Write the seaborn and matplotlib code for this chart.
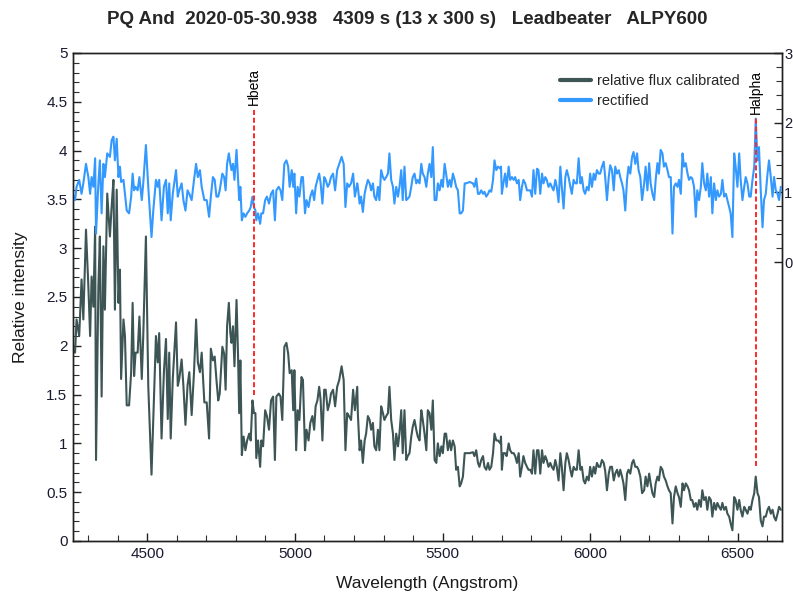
import numpy as np
import pandas as pd
import matplotlib
matplotlib.use('Agg')
import matplotlib.pyplot as plt
import seaborn as sns
from matplotlib.ticker import MultipleLocator, FixedLocator
from matplotlib.lines import Line2D

# ---------------- data ----------------
wavelength = [
    4250, 4255, 4260, 4269, 4277, 4283, 4292, 4300, 4306, 4311, 4317, 4323, 4326, 4334, 4339, 4345,
    4351, 4356, 4364, 4373, 4379, 4385, 4390, 4396, 4402, 4407, 4411, 4419, 4424, 4430, 4438, 4445,
    4450, 4455, 4460, 4467, 4473, 4481, 4486, 4495, 4503, 4514, 4520, 4529, 4535, 4540, 4548, 4556,
    4563, 4569, 4574, 4579, 4586, 4597, 4603, 4608, 4616, 4622, 4629, 4636, 4642, 4650, 4658, 4665,
    4671, 4678, 4684, 4693, 4701, 4709, 4715,
    4722, 4728, 4734, 4740, 4745, 4754, 4760, 4765, 4770, 4776, 4781, 4785, 4790, 4795, 4802, 4807,
    4811, 4815, 4820, 4826, 4832, 4838, 4845, 4850, 4856, 4861, 4866, 4869, 4875, 4882, 4886, 4892,
    4899, 4905, 4912, 4919, 4926, 4932, 4937, 4945, 4951, 4957, 4964, 4971, 4977, 4982, 4989, 4994,
    4998, 5004, 5009, 5015, 5022, 5027, 5034, 5039, 5046, 5052, 5059, 5065, 5070, 5076, 5082, 5087,
    5093, 5099, 5104, 5111, 5117, 5122, 5129, 5136, 5143, 5150, 5158, 5165, 5171, 5177, 5183, 5190,
    5197, 5203, 5211,
    5213, 5219, 5224, 5230, 5236, 5241, 5247, 5253, 5258, 5264, 5269, 5275, 5281, 5286, 5292, 5298,
    5303, 5309, 5315, 5320, 5326, 5332, 5337, 5343, 5349, 5354, 5360, 5365, 5371, 5377, 5382, 5388,
    5394, 5399, 5405, 5411, 5416, 5422, 5428, 5433, 5439, 5445, 5450, 5456, 5462, 5467, 5473, 5479,
    5484, 5490, 5496, 5501, 5507, 5512, 5518, 5524, 5529, 5535, 5541, 5546, 5552, 5558, 5563, 5569,
    5575, 5580, 5592, 5603, 5608, 5614, 5620, 5625, 5631, 5637, 5642, 5648, 5654, 5659, 5665, 5671,
    5676, 5682, 5688, 5696,
    5698, 5701, 5706, 5712, 5717, 5724, 5729, 5735, 5741, 5746, 5752, 5758, 5763, 5769, 5774, 5780,
    5786, 5791, 5797, 5803, 5808, 5814, 5820, 5825, 5831, 5837, 5842, 5848, 5853, 5859, 5865, 5870,
    5876, 5882, 5887, 5893, 5899, 5904, 5910, 5916, 5921, 5927, 5933, 5938, 5944, 5950, 5955, 5961,
    5967, 5972, 5978, 5983, 5989, 5995, 6000, 6006, 6012, 6017, 6023, 6029, 6034, 6040, 6046, 6051,
    6057, 6063, 6068, 6074, 6080, 6085, 6091, 6097, 6102, 6108, 6113, 6119, 6125, 6130, 6136, 6142,
    6147, 6153, 6159, 6164, 6170, 6176,
    6183, 6188, 6194, 6200, 6205, 6211, 6217, 6222, 6228, 6233, 6239, 6245, 6250, 6256, 6262, 6267,
    6273, 6279, 6284, 6290, 6296, 6301, 6307, 6313, 6318, 6324, 6330, 6335, 6341, 6346, 6352, 6358,
    6363, 6369, 6375, 6380, 6386, 6392, 6397, 6403, 6409, 6414, 6420, 6426, 6431, 6437, 6443, 6448,
    6454, 6460, 6465, 6471, 6476, 6482, 6488, 6493, 6499, 6505, 6510, 6516, 6522, 6527, 6533, 6539,
    6544, 6550, 6556, 6561, 6567, 6572, 6578, 6584, 6589, 6595, 6601, 6606, 6612, 6618, 6623, 6629,
    6635, 6640, 6646,
]

flux_calibrated = [
    1.95, 1.93, 2.27, 2.10, 2.68, 2.27, 3.19, 2.61, 2.10, 2.71, 2.40, 3.22, 0.83, 2.61, 3.12, 1.48,
    3.02, 2.37, 3.56, 3.12, 3.43, 3.70, 2.37, 3.60, 2.44, 2.78, 1.66, 2.27, 2.10, 1.39, 1.39, 1.73,
    2.44, 1.69, 1.93, 1.93, 2.30, 1.66, 2.10, 3.12, 1.59, 0.68, 1.25, 2.10, 1.83, 2.13, 1.05, 1.73,
    2.07, 1.25, 1.93, 1.05, 1.66, 2.24, 1.59, 1.66, 1.86, 1.59, 1.19, 1.59, 1.73, 1.29, 1.73, 2.27,
    1.83, 1.73, 1.93, 1.42, 1.42, 1.05, 1.97,
    1.85, 1.89, 1.65, 1.44, 1.51, 1.99, 1.92, 1.55, 2.20, 2.44, 2.13, 2.03, 2.20, 1.79, 2.47, 1.92,
    1.31, 1.85, 0.88, 1.07, 0.93, 1.03, 1.10, 1.03, 1.44, 1.31, 1.31, 0.85, 1.03, 0.76, 1.03, 0.97,
    1.34, 1.28, 1.14, 1.44, 1.48, 0.83, 1.48, 1.51, 1.48, 1.24, 1.99, 2.03, 1.92, 1.72, 1.75, 1.34,
    1.75, 0.93, 1.34, 1.24, 1.68, 1.65, 0.93, 1.14, 1.03, 1.21, 1.28, 1.14, 1.38, 1.44, 1.58, 1.44,
    1.03, 1.55, 1.55, 1.34, 1.41, 1.51, 1.55, 1.38, 1.58, 1.65, 1.79, 1.65, 0.93, 1.31, 1.28, 1.24,
    1.55, 1.34, 1.58,
    1.31, 0.93, 1.03, 0.80, 1.03, 1.10, 1.28, 1.24, 1.14, 1.21, 0.97, 0.93, 1.14, 0.93, 1.38, 1.31,
    1.24, 1.28, 1.31, 1.58, 1.24, 1.10, 0.83, 1.10, 0.97, 1.10, 1.34, 0.90, 1.34, 0.83, 0.87, 0.90,
    1.07, 1.17, 1.24, 1.14, 1.07, 1.03, 1.34, 1.24, 1.10, 0.93, 1.34, 1.31, 1.14, 1.44, 0.83, 0.80,
    1.00, 0.87, 0.97, 0.90, 1.10, 1.10, 0.93, 1.03, 0.93, 1.03, 0.97, 0.73, 0.76, 0.56, 0.59, 0.66,
    0.90, 0.90, 0.90, 0.91, 0.87, 0.93, 0.80, 0.76, 0.83, 0.87, 0.76, 0.73, 0.80, 0.73, 0.76, 0.90,
    1.10, 1.03, 1.03, 1.00,
    1.07, 0.73, 0.90, 0.90, 0.87, 1.00, 0.93, 0.90, 0.90, 0.87, 0.80, 0.90, 0.66, 0.76, 0.87, 0.80,
    0.76, 0.73, 0.73, 0.69, 0.93, 0.69, 0.93, 0.93, 0.69, 0.93, 0.80, 0.87, 0.83, 0.76, 0.80, 0.76,
    0.73, 0.83, 0.76, 0.62, 0.90, 0.76, 0.52, 0.80, 0.90, 0.83, 0.73, 0.66, 0.76, 0.73, 0.73, 0.93,
    0.73, 0.76, 0.62, 0.59, 0.66, 0.62, 0.76, 0.66, 0.76, 0.69, 0.80, 0.76, 0.76, 0.83, 0.80, 0.72,
    0.52, 0.69, 0.76, 0.76, 0.62, 0.69, 0.73, 0.66, 0.73, 0.66, 0.59, 0.42, 0.69, 0.73, 0.69, 0.80,
    0.83, 0.76, 0.76, 0.73, 0.66, 0.49,
    0.52, 0.66, 0.56, 0.69, 0.59, 0.49, 0.45, 0.59, 0.66, 0.62, 0.76, 0.73, 0.66, 0.62, 0.56, 0.52,
    0.49, 0.18, 0.45, 0.56, 0.49, 0.45, 0.35, 0.59, 0.52, 0.59, 0.56, 0.52, 0.42, 0.42, 0.35, 0.39,
    0.32, 0.42, 0.35, 0.52, 0.42, 0.45, 0.32, 0.45, 0.42, 0.25, 0.39, 0.32, 0.39, 0.35, 0.32, 0.39,
    0.32, 0.35, 0.28, 0.25, 0.18, 0.11, 0.45, 0.42, 0.32, 0.42, 0.32, 0.25, 0.35, 0.32, 0.28, 0.35,
    0.32, 0.42, 0.49, 0.66, 0.49, 0.45, 0.21, 0.15, 0.25, 0.25, 0.32, 0.35, 0.28, 0.32, 0.25, 0.21,
    0.28, 0.35, 0.32,
]

rectified = [
    0.95, 0.89, 1.08, 1.18, 0.98, 1.13, 1.41, 1.22, 0.98, 1.22, 1.08, 1.49, 0.41, 1.13, 1.46, 0.70,
    1.41, 1.22, 1.56, 1.51, 1.75, 1.80, 1.46, 1.77, 1.22, 1.37, 1.15, 1.18, 0.98, 0.74, 0.70, 0.94,
    1.27, 1.03, 1.08, 1.03, 1.22, 0.89, 1.13, 1.68, 1.08, 0.36, 0.74, 1.18, 1.08, 1.18, 0.60, 1.08,
    1.18, 0.70, 1.13, 0.60, 0.98, 1.32, 0.94, 1.03, 1.13, 0.89, 0.74, 1.03, 0.98, 0.89, 1.18, 1.41,
    1.22, 1.32, 1.08, 0.89, 0.89, 0.65, 0.94,
    1.22, 1.18, 0.94, 0.94, 1.03, 1.27, 1.22, 1.03, 1.41, 1.56, 1.41, 1.32, 1.41, 1.18, 1.61, 1.22,
    0.89, 1.08, 0.60, 0.70, 0.65, 0.70, 0.74, 0.79, 0.94, 0.79, 0.74, 0.60, 0.70, 0.55, 0.70, 0.70,
    0.89, 0.94, 0.84, 0.98, 1.03, 0.60, 1.03, 1.08, 1.03, 0.89, 1.41, 1.46, 1.37, 1.08, 1.32, 1.08,
    1.27, 0.70, 1.08, 0.94, 1.22, 1.22, 0.70, 0.89, 0.79, 0.94, 1.03, 0.89, 1.08, 1.18, 1.27, 1.13,
    0.84, 1.22, 1.18, 1.08, 1.13, 1.22, 1.27, 1.03, 1.32, 1.41, 1.51, 1.41, 0.79, 1.13, 1.08, 1.13,
    1.27, 0.94, 1.13,
    1.08, 0.84, 0.94, 0.72, 0.98, 1.08, 1.18, 1.13, 1.03, 1.13, 0.94, 0.89, 1.08, 0.89, 1.32, 1.22,
    1.18, 1.22, 1.27, 1.56, 1.18, 1.08, 0.84, 1.08, 0.94, 1.08, 1.32, 0.89, 1.37, 0.89, 0.91, 0.94,
    1.08, 1.22, 1.27, 1.13, 1.18, 1.13, 1.41, 1.27, 1.22, 1.08, 1.27, 1.41, 1.22, 1.65, 0.89, 0.89,
    1.13, 1.03, 1.18, 1.08, 1.41, 1.27, 1.08, 1.18, 1.08, 1.27, 1.18, 1.08, 1.03, 0.70, 0.70, 0.74,
    1.13, 1.13, 1.15, 1.13, 1.08, 1.20, 0.98, 0.98, 1.03, 0.98, 1.01, 0.94, 0.98, 1.03, 1.01, 1.18,
    1.46, 1.32, 1.37, 1.34,
    1.37, 0.98, 1.13, 1.27, 1.08, 1.37, 1.18, 1.22, 1.18, 1.22, 1.13, 1.18, 0.89, 1.08, 1.18, 1.13,
    1.03, 1.03, 1.03, 0.94, 1.32, 0.98, 1.34, 1.32, 0.98, 1.27, 1.13, 1.22, 1.18, 1.08, 1.13, 1.08,
    1.03, 1.18, 1.08, 0.86, 1.37, 1.08, 0.77, 1.22, 1.32, 1.22, 1.08, 0.98, 1.18, 1.13, 1.13, 1.49,
    1.13, 1.22, 1.03, 0.98, 1.08, 1.03, 1.27, 1.08, 1.27, 1.18, 1.32, 1.27, 1.27, 1.37, 1.44, 1.22,
    0.89, 1.22, 1.39, 1.32, 1.03, 1.37, 1.27, 1.32, 1.22, 1.13, 1.03, 0.74, 1.18, 1.37, 1.27, 1.51,
    1.58, 1.41, 1.56, 1.32, 1.22, 0.89,
    1.13, 1.37, 1.03, 1.42, 1.13, 0.98, 0.89, 1.18, 1.42, 1.27, 1.61, 1.56, 1.37, 1.42, 1.32, 1.22,
    1.22, 0.41, 1.08, 1.13, 1.08, 1.18, 0.98, 1.56, 1.37, 1.42, 1.27, 1.18, 1.22, 1.20, 1.08, 0.65,
    1.03, 0.89, 1.08, 1.42, 1.13, 1.03, 1.27, 0.94, 1.22, 0.70, 1.13, 0.89, 1.03, 0.94, 0.98, 1.18,
    0.94, 0.98, 0.89, 0.79, 0.70, 0.36, 1.56, 1.37, 1.08, 1.56, 1.18, 0.89, 1.08, 1.22, 1.13, 0.94,
    0.94, 1.18, 1.37, 2.06, 1.46, 1.65, 1.03, 0.50, 0.89, 0.98, 1.27, 1.46, 1.22, 0.94, 1.22, 1.03,
    0.98, 0.89, 1.08,
]

line_names = ["relative flux calibrated", "rectified"]
marker_lines = {"Hbeta": 4861, "Halpha": 6563}
title = "PQ And  2020-05-30.938   4309 s (13 x 300 s)   Leadbeater   ALPY600"

n = min(len(wavelength), len(flux_calibrated), len(rectified))

df = pd.DataFrame({
    "wavelength": wavelength[:n],
    "flux": flux_calibrated[:n],
    "rect": rectified[:n],
})

# ---------------- style ----------------
sns.set_theme(style="white")
plt.rcParams["font.family"] = ["Liberation Sans", "DejaVu Sans"]

DARK = "#3d5555"
BLUE = "#3399ff"
RED = "#ff2a2a"

W, H = 793, 596
fig = plt.figure(figsize=(W / 100, H / 100), dpi=100)
L, R, T, B = 73, 782, 53, 541
ax = fig.add_axes([L / W, 1 - B / H, (R - L) / W, (B - T) / H])
ax2 = ax.twinx()

sns.lineplot(data=df, x="wavelength", y="flux", ax=ax, color=DARK, lw=1.5,
             estimator=None, sort=False, legend=False)
sns.lineplot(data=df, x="wavelength", y="rect", ax=ax2, color=BLUE, lw=1.5,
             estimator=None, sort=False, legend=False)

# marker lines (defined in left-axis units), drawn on top
line_spans = {"Hbeta": (1.50, 4.44), "Halpha": (0.77, 4.34)}
for name, wl in marker_lines.items():
    y0, y1 = line_spans[name]
    ln = Line2D([wl, wl], [y0, y1], transform=ax.transData, color=RED, lw=1.4,
                dashes=(2.6, 1.4), zorder=6)
    ax2.add_artist(ln)
    ax.text(wl, y1 + 0.03, name, rotation=90, ha="center", va="bottom",
            fontsize=10, color="black")

ax.set_xlim(4248, 6650)
ax.set_ylim(0, 5)
ax2.set_ylim(-4, 3)

ax.xaxis.set_major_locator(FixedLocator([4500, 5000, 5500, 6000, 6500]))
ax.xaxis.set_minor_locator(MultipleLocator(100))
ax.yaxis.set_major_locator(MultipleLocator(0.5))
ax.yaxis.set_minor_locator(MultipleLocator(0.1))
ax.yaxis.set_major_formatter(matplotlib.ticker.FuncFormatter(lambda v, p: f"{v:g}"))
ax2.yaxis.set_major_locator(FixedLocator([0, 1, 2, 3]))
ax2.yaxis.set_minor_locator(FixedLocator([i / 5 for i in range(1, 15) if i % 5]))

for a in (ax, ax2):
    a.tick_params(which="major", direction="in", length=6, width=1, color="#202020",
                  labelsize=11, labelcolor="#1a1a30", pad=4)
    a.tick_params(which="minor", direction="in", length=4, width=0.8, color="#303030")
    for s in a.spines.values():
        s.set_color("#202020")
        s.set_linewidth(1.0)
ax.tick_params(axis="y", which="both", left=True, right=False)
ax.tick_params(axis="x", which="both", bottom=True, top=False)
ax2.tick_params(axis="y", which="both", right=True, left=False, pad=1.5, labelsize=10.5)

ax.set_xlabel("Wavelength (Angstrom)", fontsize=12.5, color="#1a1a1a", labelpad=11)
ax.set_ylabel("Relative intensity", fontsize=12.5, color="#1a1a1a", labelpad=13)
ax2.set_ylabel("")
ax.grid(False)
ax2.grid(False)

handles = [Line2D([], [], color=DARK, lw=3), Line2D([], [], color=BLUE, lw=3)]
ax2.legend(handles, line_names, loc="upper left", frameon=False,
           bbox_to_anchor=(560 / W, 1 - 74 / H), bbox_transform=fig.transFigure,
           borderpad=0, borderaxespad=0, handlelength=2.1, handletextpad=0.45,
           labelspacing=0.4, prop={"size": 10.5})

fig.text(407 / W, 1 - 20 / H, title, ha="center", va="center", fontsize=13.5,
         fontweight="bold", family=["Liberation Sans", "DejaVu Sans"])

fig.savefig("out.png", dpi=100, facecolor="white")
